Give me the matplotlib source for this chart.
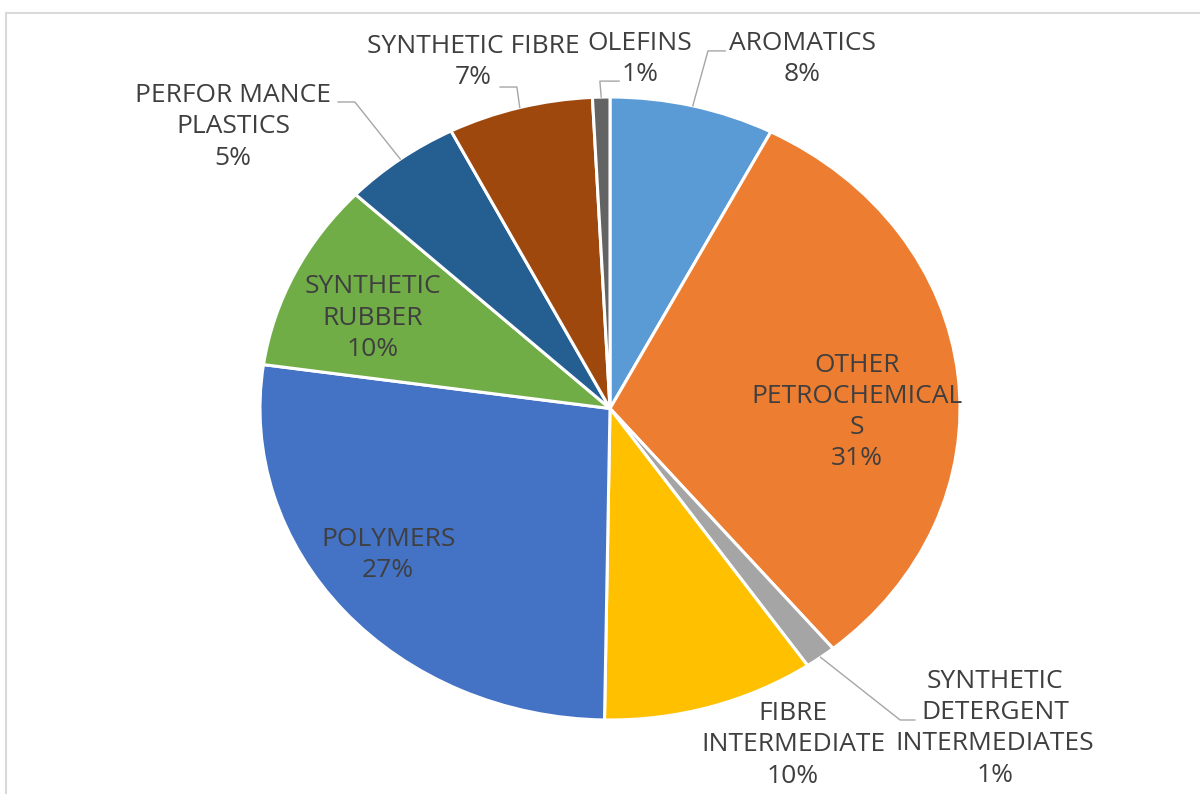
import numpy as np
import matplotlib
matplotlib.use("Agg")
import matplotlib.pyplot as plt
from matplotlib.lines import Line2D

# data (share of petrochemical products, %)
categories = ["AROMATICS", "OTHER\nPETROCHEMICAL\nS", "SYNTHETIC\nDETERGENT\nINTERMEDIATES",
              "FIBRE\nINTERMEDIATE", "POLYMERS", "SYNTHETIC\nRUBBER",
              "PERFOR MANCE\nPLASTICS", "SYNTHETIC FIBRE", "OLEFINS"]
values = [7.6, 31.4, 1.45, 9.8, 27.0, 9.8, 5.45, 6.7, 0.8]
colors = ["#5B9BD5", "#ED7D31", "#A5A5A5", "#FFC000", "#4472C4",
          "#70AD47", "#255E91", "#9E480E", "#636363"]

# label layout (axis units of the unit pie) and leader line elbows
label_pos = [(0.549, 1.122), (0.706, -0.011), (1.10, -1.026), (0.523, -1.08),
             (-0.634, -0.47), (-0.677, 0.29), (-1.077, 0.904), (-0.391, 1.112),
             (0.086, 1.122)]
leaders = {0: [(0.28, 1.148), (0.329, 1.148)],
           2: [(0.829, -1.0), (0.871, -1.0)],
           6: [(-0.729, 0.984), (-0.777, 0.984)],
           7: [(-0.266, 1.032), (-0.314, 1.032)],
           8: [(-0.029, 1.051), (0.026, 1.051)]}

text_color = "#3F3F3F"
plt.rcParams['font.family'] = ['Open Sans', 'DejaVu Sans']

fig = plt.figure(figsize=(12, 7.94), dpi=100)
ax = fig.add_axes([0, 0, 1, 1])
wedges, _ = ax.pie(values, colors=colors, startangle=90, counterclock=False,
                   wedgeprops=dict(edgecolor="white", linewidth=2.2))

# stretch pie into the ellipse shape of the original
ax.set_aspect('auto')
cx, cy, rx, ry = 610, 408.5, 350, 311.5
ax.set_xlim(-cx / rx, (1200 - cx) / rx)
ax.set_ylim(-(794 - cy) / ry, cy / ry)

total = sum(values)
for i, (cat, v) in enumerate(zip(categories, values)):
    pct = "%.0f%%" % (v / total * 100)
    x, y = label_pos[i]
    ax.text(x, y, cat + "\n" + pct, ha="center", va="center", fontsize=19,
            color=text_color, linespacing=1.33)
    if i in leaders:
        w = wedges[i]
        theta = np.deg2rad((w.theta1 + w.theta2) / 2)
        pts = [(np.cos(theta), np.sin(theta))] + leaders[i]
        xs, ys = zip(*pts)
        ax.plot(xs, ys, color="#A6A6A6", linewidth=1)

# chart area border
fig.add_artist(Line2D([6 / 1200, 1], [1 - 13 / 794, 1 - 13 / 794], color="#D9D9D9", linewidth=1.5))
fig.add_artist(Line2D([6 / 1200, 6 / 1200], [0, 1 - 13 / 794], color="#D9D9D9", linewidth=1.5))

fig.savefig("out.png", dpi=100)
